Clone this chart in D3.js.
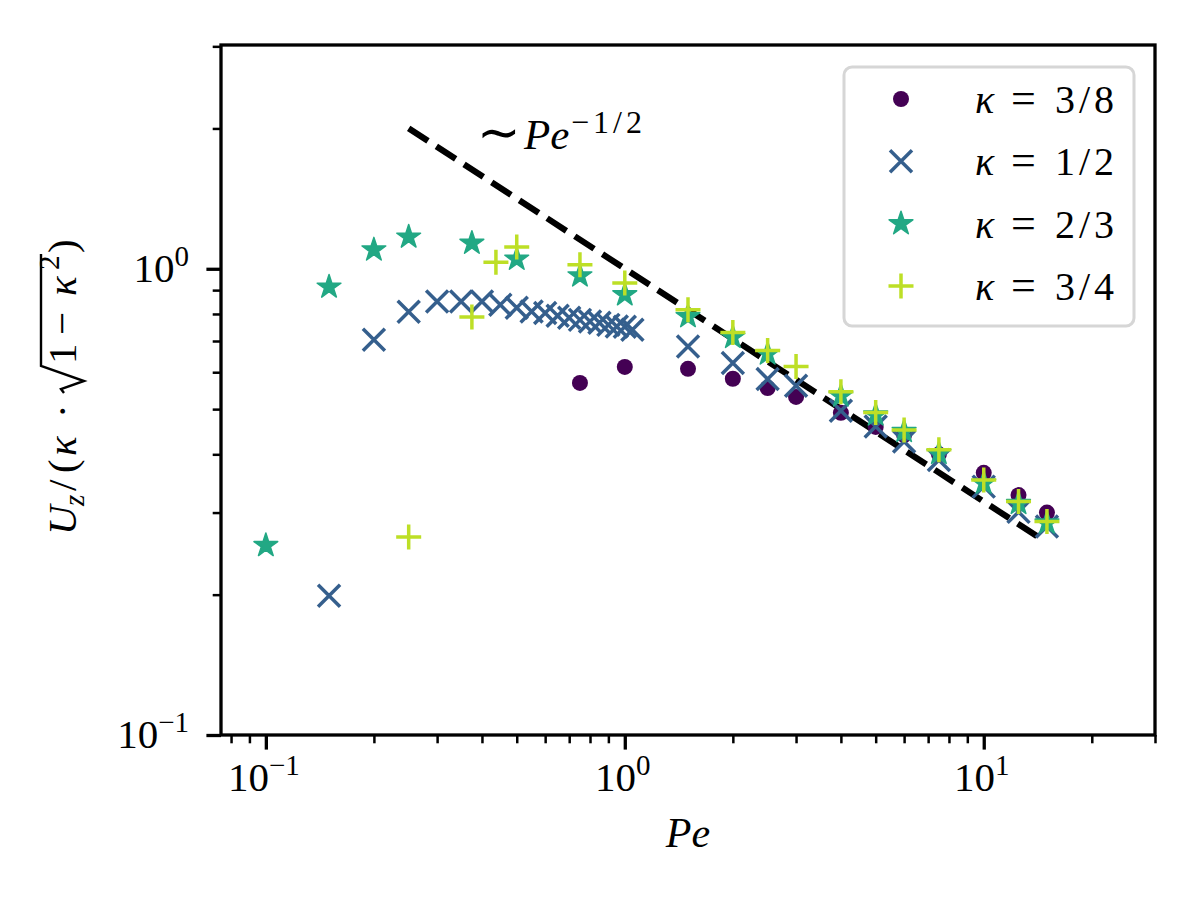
<!DOCTYPE html>
<html>
<head>
<meta charset="utf-8">
<script src="https://cdn.jsdelivr.net/npm/d3@7"></script>
<style>
  body { margin: 0; background: #fff; }
  svg text { font-family: "Liberation Serif", "Times New Roman", serif; fill: #000; }
</style>
</head>
<body>
<svg id="chart" width="1200" height="900"></svg>
<script>
// ---- data ----
var peRange = [0.075, 30];
var uRange = [0.1, 3.02];

var pe38 = [0.75, 1, 1.5, 2, 2.5, 3, 4, 5, 6, 7.5, 10, 12.5, 15];
var u38 = [0.569, 0.616, 0.610, 0.581, 0.555, 0.531, 0.491, 0.458, 0.44, 0.40, 0.365, 0.327, 0.30];

var pe12 = [0.15, 0.2, 0.25, 0.3, 0.35, 0.4, 0.45, 0.5, 0.55, 0.6, 0.65, 0.7, 0.75, 0.8, 0.85,
            0.9, 0.95, 1.0, 1.05, 1.5, 2, 2.5, 3, 4, 5, 6, 7.5, 10, 12.5, 15];
var u12 = [0.199, 0.704, 0.809, 0.851, 0.851, 0.851, 0.837, 0.825, 0.810, 0.804, 0.793, 0.785, 0.777, 0.771, 0.766,
           0.758, 0.752, 0.751, 0.74, 0.681, 0.628, 0.58, 0.561, 0.496, 0.459, 0.426, 0.389, 0.341, 0.301, 0.28];

var pe23 = [0.1, 0.15, 0.2, 0.25, 0.375, 0.5, 0.75, 1, 1.5, 2, 2.5, 4, 5, 6, 7.5, 10, 12.5, 15];
var u23 = [0.255, 0.914, 1.098, 1.17, 1.135, 1.049, 0.966, 0.88, 0.79, 0.713, 0.657, 0.534, 0.486, 0.448, 0.402, 0.347, 0.314, 0.285];

var pe34 = [0.25, 0.375, 0.4375, 0.5, 0.75, 1, 1.5, 2, 2.5, 3, 4, 5, 6, 7.5, 10, 12.5, 15];
var u34 = [0.266, 0.788, 1.033, 1.113, 1.02, 0.932, 0.817, 0.730, 0.668, 0.617, 0.545, 0.492, 0.451, 0.409, 0.3525, 0.317, 0.287];

var guidePe = [0.25, 14.5];
var guideU = [2.0, 0.263];

var kappaLabels = ["3/8", "1/2", "2/3", "3/4"];
var markerKinds = ["circle", "x", "star", "plus"];
var xMajor = [0.1, 1, 10];
var xTickExp = [-1, 0, 1];
var yMajor = [0.1, 1];
var yTickExp = [-1, 0];

// ---- setup ----
var svg = d3.select("#chart");
var plot = { left: 221, right: 1155, top: 45, bottom: 735 };

var x = d3.scaleLog().domain(peRange).range([plot.left, plot.right]);
var y = d3.scaleLog().domain(uRange).range([plot.bottom, plot.top]);

var colors = [0, 0.3, 0.6, 0.9].map(d3.interpolateViridis);

var series = [
    { pe: pe38, u: u38 },
    { pe: pe12, u: u12 },
    { pe: pe23, u: u23 },
    { pe: pe34, u: u34 }
].map(function (s, i) {
    s.label = kappaLabels[i];
    s.kind = markerKinds[i];
    s.color = colors[i];
    s.points = s.pe.map(function (p, j) { return [p, s.u[j]]; });
    return s;
});

var starPath = d3.symbol(d3.symbolStar, 175)();

function drawMarker(g, kind, color) {
    if (kind == "circle") {
        g.append("circle").attr("r", 8).attr("fill", color);
    } else if (kind == "x") {
        g.append("path").attr("d", "M-11,-11L11,11M-11,11L11,-11")
            .attr("stroke", color).attr("stroke-width", 3.5).attr("fill", "none");
    } else if (kind == "star") {
        g.append("path").attr("d", starPath)
            .attr("fill", color).attr("stroke", color)
            .attr("stroke-width", 1.5).attr("stroke-linejoin", "round");
    } else {
        g.append("path").attr("d", "M-12.5,0H12.5M0,-12.5V12.5")
            .attr("stroke", color).attr("stroke-width", 3.5).attr("fill", "none");
    }
}

// ---- guide line ~ Pe^-1/2 ----
var line = d3.line().x((d) => x(d[0])).y((d) => y(d[1]));
svg.append("path")
    .datum(guidePe.map((p, i) => [p, guideU[i]]))
    .attr("d", line)
    .attr("fill", "none")
    .attr("stroke", "#000")
    .attr("stroke-width", 6.2)
    .attr("stroke-dasharray", "23,10");

// ---- markers ----
series.forEach(function (s) {
    svg.append("g")
        .selectAll("g")
        .data(s.points)
        .enter()
        .append("g")
        .attr("transform", (d) => "translate(" + x(d[0]) + "," + y(d[1]) + ")")
        .each(function () { drawMarker(d3.select(this), s.kind, s.color); });
});

// ---- axes ----
function styleAxis(g, width) {
    g.select(".domain").remove();
    g.selectAll(".tick line").attr("stroke", "#000").attr("stroke-width", width);
    g.selectAll(".tick text").remove();
}

var xMinor = x.ticks().filter((v) => xMajor.indexOf(v) < 0);
var yMinor = y.ticks().filter((v) => yMajor.indexOf(v) < 0);

svg.append("g").attr("transform", "translate(0," + plot.bottom + ")")
    .call(d3.axisBottom(x).tickValues(xMinor).tickSize(8.3).tickSizeOuter(0))
    .call(styleAxis, 2.5);
svg.append("g").attr("transform", "translate(0," + plot.bottom + ")")
    .call(d3.axisBottom(x).tickValues(xMajor).tickSize(14.6).tickSizeOuter(0))
    .call(styleAxis, 3.3);
svg.append("g").attr("transform", "translate(" + plot.left + ",0)")
    .call(d3.axisLeft(y).tickValues(yMinor).tickSize(8.3).tickSizeOuter(0))
    .call(styleAxis, 2.5);
svg.append("g").attr("transform", "translate(" + plot.left + ",0)")
    .call(d3.axisLeft(y).tickValues(yMajor).tickSize(14.6).tickSizeOuter(0))
    .call(styleAxis, 3.3);

function powerLabel(t, exp) {
    t.append("tspan").text("10");
    t.append("tspan").attr("dy", -16).attr("font-size", 29)
        .text(exp < 0 ? "\u2212" + Math.abs(exp) : String(exp));
}

var xLabels = svg.append("g").selectAll("text")
    .data(xMajor)
    .enter()
    .append("text")
    .attr("x", (d) => x(d) - 2)
    .attr("y", 791)
    .attr("text-anchor", "middle")
    .attr("font-size", 41)
    .each(function (d, i) { powerLabel(d3.select(this), xTickExp[i]); });

var yLabels = svg.append("g").selectAll("text")
    .data(yMajor)
    .enter()
    .append("text")
    .attr("x", 189)
    .attr("y", (d) => y(d) + 13)
    .attr("text-anchor", "end")
    .attr("font-size", 41)
    .each(function (d, i) { powerLabel(d3.select(this), yTickExp[i]); });

// frame
svg.append("rect")
    .attr("x", plot.left).attr("y", plot.top)
    .attr("width", plot.right - plot.left).attr("height", plot.bottom - plot.top)
    .attr("fill", "none").attr("stroke", "#000").attr("stroke-width", 3.3);

// ---- axis labels ----
var xl = svg.append("text")
    .attr("x", (plot.left + plot.right) / 2)
    .attr("y", 847)
    .attr("text-anchor", "middle")
    .attr("font-size", 42)
    .attr("font-style", "italic")
    .text("Pe");

// y label, laid out piece by piece (math style), rotated
var yl = svg.append("g").attr("transform", "translate(76," + ((plot.top + plot.bottom) / 2 - 3) + ") rotate(-90)");
var ylPieces = [
    { t: "U", it: true, at: -148 },
    { t: "z", it: true, fs: 29, at: -119, dy: 8 },
    { t: "/", at: -104 },
    { t: "(", at: -86 },
    { t: "\u03ba", it: true, at: -69 },
    { t: "\u00b7", at: -31 },
    { t: "1", at: 23 },
    { t: "\u2212", at: 52 },
    { t: "\u03ba", it: true, at: 91 },
    { t: "2", fs: 29, at: 117, dy: -17 },
    { t: ")", at: 134 }
];
yl.selectAll("text")
    .data(ylPieces)
    .enter()
    .append("text")
    .attr("x", (d) => d.at)
    .attr("y", (d) => d.dy || 0)
    .attr("font-size", (d) => d.fs || 41)
    .attr("font-style", (d) => d.it ? "italic" : null)
    .text((d) => d.t);
// radical sign with its bar
yl.append("path")
    .attr("d", "M-6,-12L-2,-15L6,8L21,-35H133")
    .attr("fill", "none")
    .attr("stroke", "#000")
    .attr("stroke-width", 2.4)
    .attr("stroke-linejoin", "miter");

// ---- annotation ----
var ann = svg.append("g");
ann.append("text").attr("x", 477).attr("y", 150).attr("font-size", 52).text("\u223c");
ann.append("text").attr("x", 524).attr("y", 149).attr("font-size", 43)
    .attr("font-style", "italic").text("Pe");
ann.append("text").attr("x", 571).attr("y", 133).attr("font-size", 32)
    .attr("letter-spacing", 4).text("\u22121/2");

// ---- legend ----
var legend = svg.append("g");
legend.append("rect")
    .attr("x", 844).attr("y", 67)
    .attr("width", 290).attr("height", 259)
    .attr("rx", 8)
    .attr("fill", "#fff").attr("fill-opacity", 0.8)
    .attr("stroke", "#d6d6d6").attr("stroke-width", 3);

var rowY = d3.scalePoint().domain(d3.range(series.length)).range([99, 286]);

var entry = legend.selectAll("g.entry")
    .data(series)
    .enter()
    .append("g")
    .attr("class", "entry")
    .attr("transform", (d, i) => "translate(0," + rowY(i) + ")");

entry.each(function (d) {
    var m = d3.select(this).append("g").attr("transform", "translate(901,0)");
    drawMarker(m, d.kind, d.color);
});

entry.append("text")
    .attr("x", 975).attr("y", 14)
    .attr("font-size", 40).attr("font-style", "italic")
    .text("\u03ba");
entry.append("text")
    .attr("x", 1011).attr("y", 14)
    .attr("font-size", 44)
    .text("=");
entry.append("text")
    .attr("x", 1055).attr("y", 14)
    .attr("font-size", 40).attr("letter-spacing", 4)
    .text((d) => d.label);

// layout pass at the end so the serif face is settled before the picture is taken
function bb(sel) { var b = sel.node().getBBox(); return [b.x, b.y, b.width, b.height].map(Math.round).join(","); }
var rep = "xt0:" + bb(d3.select(xLabels.nodes()[0])) + " yt1:" + bb(d3.select(yLabels.nodes()[1])) +
    " Pe:" + bb(xl) + " fam:" + getComputedStyle(xl.node()).fontFamily;
svg.append("text").attr("x", 5).attr("y", 893).attr("font-size", 14)
    .style("font-family", "monospace").style("fill", "#fff").text(rep);
</script>
</body>
</html>
